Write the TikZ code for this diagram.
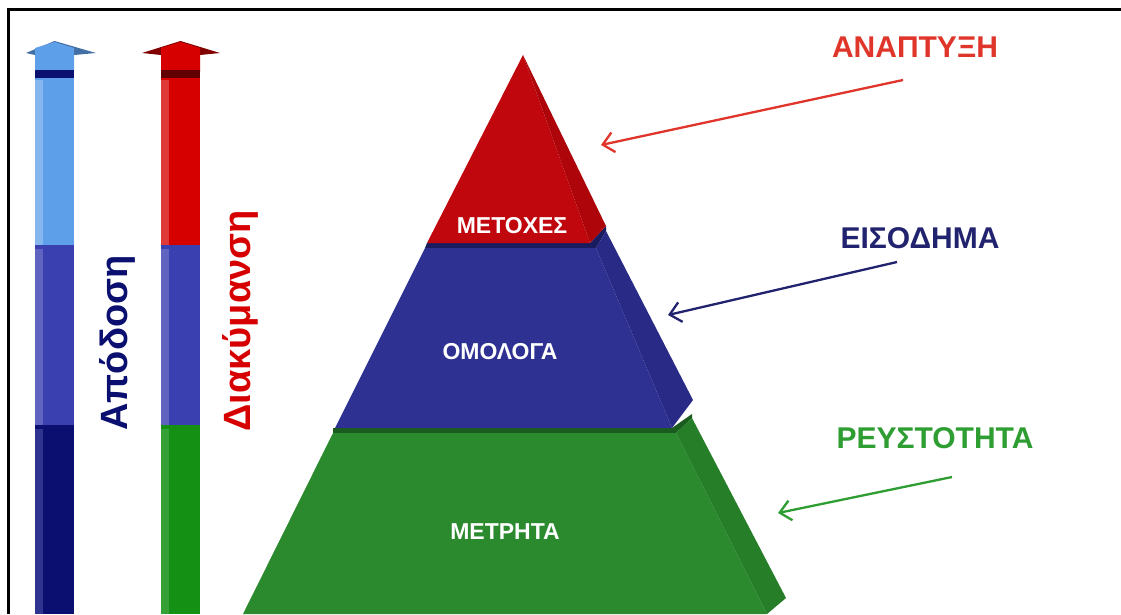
\documentclass[tikz,border=0pt]{standalone}
\usepackage{fontspec}
\setmainfont{Liberation Sans}
\usepackage{xcolor}
\usetikzlibrary{arrows.meta,calc,positioning}
\definecolor{pyrred}{HTML}{C0070D}
\definecolor{pyrredside}{HTML}{AE050A}
\definecolor{pyrblue}{HTML}{2E3192}
\definecolor{pyrblueside}{HTML}{282A86}
\definecolor{pyrbluetop}{HTML}{1A1C60}
\definecolor{pyrgreen}{HTML}{2B8A2E}
\definecolor{pyrgreenside}{HTML}{267E29}
\definecolor{pyrgreentop}{HTML}{1A5C1D}
\definecolor{barlight}{HTML}{5E9FEA}
\definecolor{barlightedge}{HTML}{86B6EE}
\definecolor{barmid}{HTML}{3B40B0}
\definecolor{barmidedge}{HTML}{6064C0}
\definecolor{barnavy}{HTML}{0B1070}
\definecolor{barnavyedge}{HTML}{2F3490}
\definecolor{barred}{HTML}{D60000}
\definecolor{barrededge}{HTML}{DE3A3A}
\definecolor{bargreen}{HTML}{149014}
\definecolor{bargreenedge}{HTML}{35A035}
\definecolor{labelred}{HTML}{E0352B}
\definecolor{labelblue}{HTML}{22236E}
\definecolor{labelgreen}{HTML}{2E9E33}

\begin{document}
\begin{tikzpicture}[
    x=1pt,y=-1pt,
    >={Straight Barb[length=11pt,width=20pt]},
    tierlabel/.style={text=white,font=\fontsize{23}{23}\selectfont\bfseries},
    sidelabel/.style={font=\fontsize{30}{30}\selectfont\bfseries},
    barlabel/.style={rotate=90,font=\fontsize{38}{38}\selectfont\bfseries},
    pointer/.style={->,line width=2.3pt},
  ]
    \useasboundingbox[fill=white] (0,0) rectangle (1121,614);
    \draw[line width=3pt] (8.5,614) -- (8.5,9.5) -- (1121,9.5);

    \fill[barlight!70!black] (26,53) -- (54.5,41) -- (96,53) -- (74,55) -- (35,55) -- cycle;
    \fill[barlight] (35,48) -- (54.5,42) -- (74,48) -- (74,72) -- (35,72) -- cycle;
    \fill[barnavy] (35,70) rectangle (74,78);
    \fill[barlight] (35,78) rectangle (74,245);
    \fill[barlightedge] (35,80) rectangle (43,245);
    \fill[barmid] (35,245) rectangle (74,425);
    \fill[barmidedge] (35,249) rectangle (43,425);
    \fill[barnavy] (35,425) rectangle (74,614);
    \fill[barnavyedge] (35,429) rectangle (43,614);

    \fill[barred!60!black] (142,53) -- (180.5,41) -- (220,53) -- (200,55) -- (161,55) -- cycle;
    \fill[barred] (161,48) -- (180.5,42) -- (200,48) -- (200,72) -- (161,72) -- cycle;
    \fill[barred!45!black] (161,70) rectangle (200,78);
    \fill[barred] (161,78) rectangle (200,245);
    \fill[barrededge] (161,80) rectangle (169,245);
    \fill[barmid] (161,245) rectangle (200,425);
    \fill[barmidedge] (161,249) rectangle (169,425);
    \fill[bargreen] (161,425) rectangle (200,614);
    \fill[bargreenedge] (161,429) rectangle (169,614);

    \node[barlabel,text=barnavy] (apodosi) at (117,343) {Απόδοση};
    \node[barlabel,text=barred] (diakymansi) at (240,321) {Διακύμανση};

    \fill[pyrgreentop] (333,428) -- (672,428) -- (692,414) -- (692,418) -- (676,433) -- (333,433) -- cycle;
    \fill[pyrgreen] (333,433) -- (676,433) -- (767,614) -- (243,614) -- cycle;
    \fill[pyrgreenside] (676,433) -- (692,418) -- (786,598) -- (767,614) -- cycle;

    \fill[pyrbluetop] (427,243) -- (590,243) -- (606,226) -- (606,231) -- (596,248) -- (425,248) -- cycle;
    \fill[pyrblue] (425,248) -- (596,248) -- (672,428) -- (335,428) -- cycle;
    \fill[pyrblueside] (596,248) -- (606,231) -- (693,400) -- (672,428) -- cycle;

    \fill[pyrred] (523,55) -- (590,243) -- (427,243) -- cycle;
    \fill[pyrredside] (523,55) -- (606,226) -- (590,243) -- cycle;

    \node[tierlabel] (metoxes) at (512,226) {ΜΕΤΟΧΕΣ};
    \node[tierlabel] (omologa) at (500,352) {ΟΜΟΛΟΓΑ};
    \node[tierlabel] (metrita) at (505,532) {ΜΕΤΡΗΤΑ};

    \node[sidelabel,text=labelred] (anaptyxi) at (915,47) {ΑΝΑΠΤΥΞΗ};
    \node[sidelabel,text=labelblue] (eisodima) at (920,238) {ΕΙΣΟΔΗΜΑ};
    \node[sidelabel,text=labelgreen] (reustotita) at (935,438) {ΡΕΥΣΤΟΤΗΤΑ};

    \coordinate (anaptyxi-from) at (903,80);
    \coordinate (anaptyxi-to) at (601,145);
    \coordinate (eisodima-from) at (897,262);
    \coordinate (eisodima-to) at (668,315);
    \coordinate (reustotita-from) at (952,477);
    \coordinate (reustotita-to) at (778,513);
    \draw[pointer,labelred] (anaptyxi-from) -- (anaptyxi-to);
    \draw[pointer,labelblue] (eisodima-from) -- (eisodima-to);
    \draw[pointer,labelgreen] (reustotita-from) -- (reustotita-to);
  \end{tikzpicture}
\end{document}
